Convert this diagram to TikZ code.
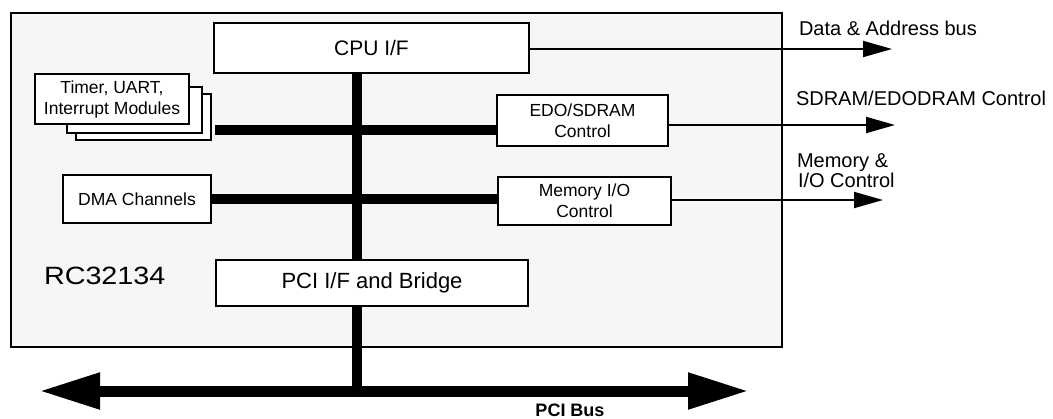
\documentclass[tikz,border=0pt]{standalone}
\usepackage{fontspec}
\setmainfont{Liberation Sans}
\newfontfamily\widefont{Liberation Sans}[FakeStretch=1.15]
\usetikzlibrary{arrows.meta,backgrounds}
\definecolor{chipgray}{HTML}{F6F6F6}
\def\blocksize{\fontsize{17.5}{21}\selectfont}
\def\annotsize{\fontsize{20}{20}\selectfont}

\begin{document}
\begin{tikzpicture}[x=1pt, y=-1pt, line width=2pt]
    \tikzstyle{block}=[draw=black, fill=white, line width=2pt, inner sep=0pt, align=center, font=\blocksize]
    \tikzstyle{bus}=[line width=9.5pt]
    \tikzstyle{signal}=[line width=2pt, -{Triangle[length=29pt,width=16pt]}]
    \tikzstyle{annot}=[anchor=base west, inner sep=0pt, font=\annotsize]

    \useasboundingbox (0,0) rectangle (1053,418);

    % Draw the functional blocks
    \node[block, minimum width=315pt, minimum height=50pt, font=\fontsize{21}{24}\selectfont] (cpu) at (371.5,48) {CPU I/F};
    \node[block, minimum width=135pt, minimum height=46pt] (tmr-3) at (143.5,117) {};
    \node[block, minimum width=135pt, minimum height=46pt] (tmr-2) at (134.5,110) {};
    \node[block, minimum width=154pt, minimum height=50pt] (tmr-1) at (112,99) {Timer, UART,\\Interrupt Modules};
    \node[block, minimum width=171pt, minimum height=51pt] (edo) at (582.5,120.5) {EDO/SDRAM\\Control};
    \node[block, minimum width=148pt, minimum height=48pt] (dma) at (137,199) {DMA Channels};
    \node[block, minimum width=173pt, minimum height=48pt] (memio) at (584.5,201) {Memory I/O\\Control};
    \node[block, minimum width=312pt, minimum height=46pt, font=\fontsize{22}{24}\selectfont] (pci) at (372,283) {PCI I/F and Bridge};
    \node[anchor=base west, inner sep=0pt, font=\widefont\fontsize{25}{25}\selectfont] (chipname) at (43,284) {RC32134};

    % Bus junctions and free ends
    \coordinate (tbus) at (215,130);
    \coordinate (pcij) at (357,391);
    \coordinate (pcil) at (39,391);
    \coordinate (pcir) at (749,391);
    \coordinate (dab) at (892,49);
    \coordinate (sdc) at (895,125);
    \coordinate (mioc) at (883,200);

    % Chip outline and internal buses behind the blocks
    \begin{scope}[on background layer]
        \node[draw=black, fill=chipgray, line width=2pt, minimum width=771pt, minimum height=334pt, inner sep=0pt] (chip) at (396.5,180) {};
        \draw[bus] (pcij |- cpu.south) -- (pcij);
        \draw[bus] (tbus) -- (tbus -| edo.west);
        \draw[bus] (dma.east) -- (dma.east -| memio.west);
        \draw[line width=11pt, {Triangle[length=61pt,width=34pt]}-{Triangle[length=61pt,width=34pt]}] (pcil) -- (pcir);
    \end{scope}

    % Outgoing control signals
    \draw[signal] (cpu.east |- dab) -- (dab);
    \draw[signal] (edo.east |- sdc) -- (sdc);
    \draw[signal] (memio.east |- mioc) -- (mioc);

    % Annotate the signals
    \node[annot] (dablbl) at (798,35) {Data \& Address bus};
    \node[annot] (sdclbl) at (795,105) {SDRAM/EDODRAM Control};
    \node[annot] (mioclbl-1) at (796,167) {Memory \&};
    \node[annot] (mioclbl-2) at (797,187) {I/O Control};
    \node[font=\bfseries\fontsize{18}{18}\selectfont, inner sep=0pt] (pcilbl) at (570,410) {PCI Bus};
\end{tikzpicture}
\end{document}
